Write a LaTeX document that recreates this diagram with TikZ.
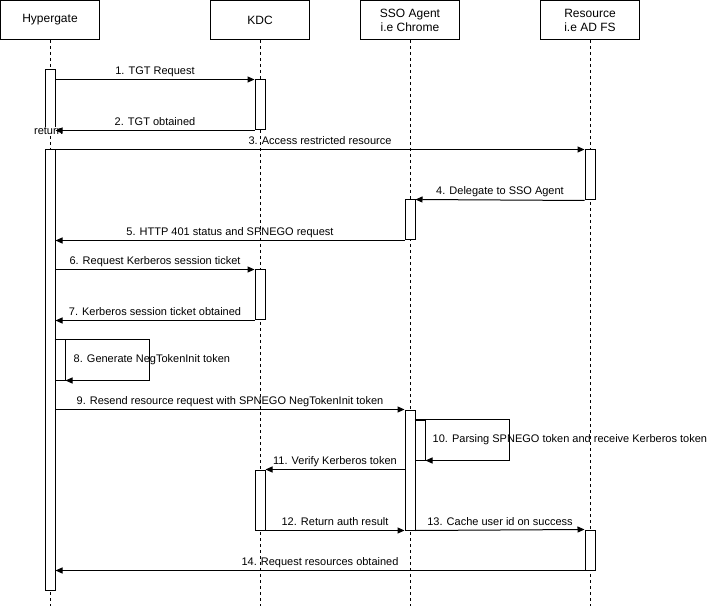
\documentclass[tikz,border=0pt]{standalone}
\usepackage{fontspec}
\setmainfont{Liberation Sans}
\usetikzlibrary{arrows.meta}
\begin{document}
\begin{tikzpicture}[x=1pt,y=-1pt,
  hdr/.style={draw, line width=1pt, minimum width=99pt, minimum height=39pt, align=center, inner sep=0pt, font=\fontsize{12}{14}\selectfont},
  act/.style={draw, fill=white, line width=1pt, minimum width=10pt, inner sep=0pt},
  life/.style={dash pattern=on 3pt off 3pt, line width=0.8pt},
  msg/.style={-{Triangle[length=7pt,width=6pt]}, line width=1pt},
  lbl/.style={font=\fontsize{11}{13}\selectfont, anchor=base, yshift=5pt, inner sep=0pt},
  slbl/.style={font=\fontsize{11}{13}\selectfont, anchor=west, inner sep=0pt}]
\useasboundingbox (0,0) rectangle (707,612);
% headers
\node[hdr] (h) at (50,20) {Hypergate};
\node[hdr] (k) at (260,20) {KDC};
\node[hdr] (s) at (410,20) {SSO Agent\\i.e Chrome};
\node[hdr] (r) at (590,20) {Resource\\i.e AD FS};
% lifeline ends
\coordinate (hEnd) at (50,606);
\coordinate (kEnd) at (260,606);
\coordinate (sEnd) at (410,606);
\coordinate (rEnd) at (590,606);
\draw[life] (h.south) -- (hEnd);
\draw[life] (k.south) -- (kEnd);
\draw[life] (s.south) -- (sEnd);
\draw[life] (r.south) -- (rEnd);
% activations
\node[act, minimum height=60pt] (hA1) at (50,100) {};
\node[act, minimum height=50pt] (kA1) at (260,105) {};
\node[act, minimum height=440pt] (hA2) at (50,370) {};
\node[act, minimum height=50pt] (rA1) at (590,175) {};
\node[act, minimum height=40pt] (sA1) at (410,220) {};
\node[act, minimum height=50pt] (kA2) at (260,295) {};
\node[act, minimum height=40pt] (hA3) at (60,360) {};
\node[act, minimum height=120pt] (sA2) at (410,470) {};
\node[act, minimum height=40pt] (sA3) at (420,440) {};
\node[act, minimum height=60pt] (kA3) at (260,500) {};
\node[act, minimum height=40pt] (rA2) at (590,550) {};
% return label
\node[font=\fontsize{11}{13}\selectfont, fill=white, inner sep=0.5pt] (ret) at (48.5,131) {return};
% messages
\draw[msg] (hA1.east |- kA1.north) -- node[lbl]{1. TGT Request} (kA1.north west);
\draw[msg] (kA1.south west) -- node[lbl]{2. TGT obtained} (hA1.south east);
\draw[msg] (hA2.north east) -- node[lbl]{3. Access restricted resource} (rA1.north west);
\draw[msg] (rA1.south west) -- node[lbl]{4. Delegate to SSO Agent} (sA1.north east);
\draw[msg] (sA1.south west) -- node[lbl]{5. HTTP 401 status and SPNEGO request} (hA2.east |- sA1.south);
\draw[msg] (hA2.east |- kA2.north) -- node[lbl]{6. Request Kerberos session ticket} (kA2.north west);
\draw[msg] (kA2.south west) -- node[lbl]{7. Kerberos session ticket obtained} (hA2.east |- kA2.south);
\draw[msg] (hA3.north west) -- ++(95,0) |- (hA3.south east);
\node[slbl] (l8) at ([xshift=8pt]hA3.east) {8. Generate NegTokenInit token};
\draw[msg] (hA2.east |- sA2.north) -- node[lbl]{9. Resend resource request with SPNEGO NegTokenInit token} (sA2.north west);
\draw[msg] (sA3.north west) -- ++(95,0) |- (sA3.south east);
\node[slbl] (l10) at ([xshift=7pt]sA3.east) {10. Parsing SPNEGO token and receive Kerberos token};
\draw[msg] (sA2.west |- kA3.north) -- node[lbl]{11. Verify Kerberos token} (kA3.north east);
\draw[msg] (kA3.south east) -- node[lbl]{12. Return auth result} (sA2.south west);
\draw[msg] (sA2.south east) -- node[lbl]{13. Cache user id on success} (rA2.north west);
\draw[msg] (rA2.south west) -- node[lbl]{14. Request resources obtained} (hA2.east |- rA2.south);
\end{tikzpicture}
\end{document}
